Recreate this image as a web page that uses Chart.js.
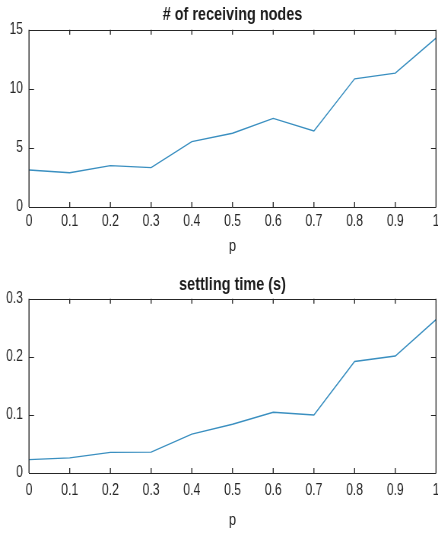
<!DOCTYPE html>
<html>
<head>
<meta charset="utf-8">
<script src="https://cdn.jsdelivr.net/npm/chart.js@4"></script>
<style>
  html, body { margin: 0; background: #fff; overflow: hidden; }
  /* the reference figure is squeezed sideways, so each chart is drawn wide and scaled in x */
  .box { position: absolute; left: 0; width: 576px; height: 270px; transform: scaleX(0.7604); transform-origin: 0 0; }
</style>
</head>
<body>
<div class="box" style="top:0"><canvas id="nodesChart" width="576" height="270"></canvas></div>
<div class="box" style="top:270px"><canvas id="timeChart" width="576" height="270"></canvas></div>
<script>
const pValues = [0, 0.1, 0.2, 0.3, 0.4, 0.5, 0.6, 0.7, 0.8, 0.9, 1];
const nodes = [3.13, 2.9, 3.5, 3.33, 5.53, 6.24, 7.5, 6.44, 10.85, 11.33, 14.3];
const settling = [0.023, 0.026, 0.0355, 0.036, 0.067, 0.084, 0.1045, 0.100, 0.192, 0.2015, 0.264];
const nodeTicks = [0, 5, 10, 15];
const timeTicks = [0, 0.1, 0.2, 0.3];

const SX = 0.7604;
const FONT = "'Liberation Sans', Arial, Helvetica, sans-serif";
const AXIS = '#262626';

// matlab style box with inward ticks on all four sides
const inwardTicks = {
    id: 'inwardTicks',
    afterDraw(chart) {
        const ctx = chart.ctx;
        const a = chart.chartArea;
        const x = chart.scales.x;
        const y = chart.scales.y;
        ctx.save();
        ctx.strokeStyle = AXIS;
        // vertical strokes get thinner after the x squeeze
        ctx.lineWidth = 1 / SX;
        ctx.beginPath();
        x.ticks.forEach(t => {
            const px = x.getPixelForValue(t.value);
            ctx.moveTo(px, a.bottom); ctx.lineTo(px, a.bottom - 5);
            ctx.moveTo(px, a.top); ctx.lineTo(px, a.top + 5);
        });
        ctx.moveTo(a.left, a.top); ctx.lineTo(a.left, a.bottom);
        ctx.moveTo(a.right, a.top); ctx.lineTo(a.right, a.bottom);
        ctx.stroke();
        ctx.lineWidth = 1;
        ctx.beginPath();
        y.ticks.forEach(t => {
            const py = Math.round(y.getPixelForValue(t.value)) + 0.5;
            ctx.moveTo(a.left, py); ctx.lineTo(a.left + 5 / SX, py);
            ctx.moveTo(a.right, py); ctx.lineTo(a.right - 5 / SX, py);
        });
        ctx.moveTo(a.left, Math.round(a.top) + 0.5); ctx.lineTo(a.right, Math.round(a.top) + 0.5);
        ctx.moveTo(a.left, Math.round(a.bottom) + 0.5); ctx.lineTo(a.right, Math.round(a.bottom) + 0.5);
        ctx.stroke();
        ctx.restore();
    }
};

const makeChart = (el, title, values, yTicks, yMax, fit) => {
    return new Chart(el, {
        type: 'line',
        data: {
            datasets: [{
                data: pValues.map((p, i) => ({ x: p, y: values[i] })),
                borderColor: '#3a8fc0',
                borderWidth: 1.4,
                pointRadius: 0,
                tension: 0,
                fill: false
            }]
        },
        options: {
            responsive: false,
            animation: false,
            layout: { padding: { left: 0, right: 2 / SX, top: 0, bottom: 0 } },
            plugins: {
                legend: { display: false },
                tooltip: { enabled: false },
                title: {
                    display: true,
                    fullSize: false,
                    text: title,
                    color: '#1a1a1a',
                    font: { family: FONT, size: 19, weight: 'bold' },
                    padding: { top: 3, bottom: fit.titleBottom }
                }
            },
            scales: {
                x: {
                    type: 'linear',
                    min: 0,
                    max: 1,
                    afterBuildTicks: s => { s.ticks = pValues.map(v => ({ value: v })); },
                    afterFit: s => { s.height = fit.xHeight; s.paddingLeft = 0; s.paddingRight = 0; },
                    grid: { display: false, drawTicks: false, tickLength: 0 },
                    border: { display: false },
                    ticks: {
                        color: AXIS,
                        padding: fit.tickPad,
                        maxRotation: 0,
                        autoSkip: false,
                        font: { family: FONT, size: 16 },
                        callback: v => String(v)
                    },
                    title: {
                        display: true,
                        text: 'p',
                        color: AXIS,
                        font: { family: FONT, size: 17 },
                        padding: { top: 0, bottom: fit.pPad }
                    }
                },
                y: {
                    min: 0,
                    max: yMax,
                    afterBuildTicks: s => { s.ticks = yTicks.map(v => ({ value: v })); },
                    afterFit: s => { s.width = 29 / SX; },
                    grid: { display: false, drawTicks: false, tickLength: 0 },
                    border: { display: false },
                    ticks: {
                        color: AXIS,
                        padding: 6 / SX,
                        font: { family: FONT, size: 16 },
                        callback: v => String(v)
                    }
                }
            }
        },
        plugins: [inwardTicks]
    });
};

makeChart(document.getElementById('nodesChart'), '# of receiving nodes', nodes, nodeTicks, 15,
    { titleBottom: 4, xHeight: 63, tickPad: 5, pPad: 13 });
makeChart(document.getElementById('timeChart'), 'settling time (s)', settling, timeTicks, 0.3,
    { titleBottom: 3, xHeight: 67, tickPad: 8, pPad: 9 });
</script>
</body>
</html>
